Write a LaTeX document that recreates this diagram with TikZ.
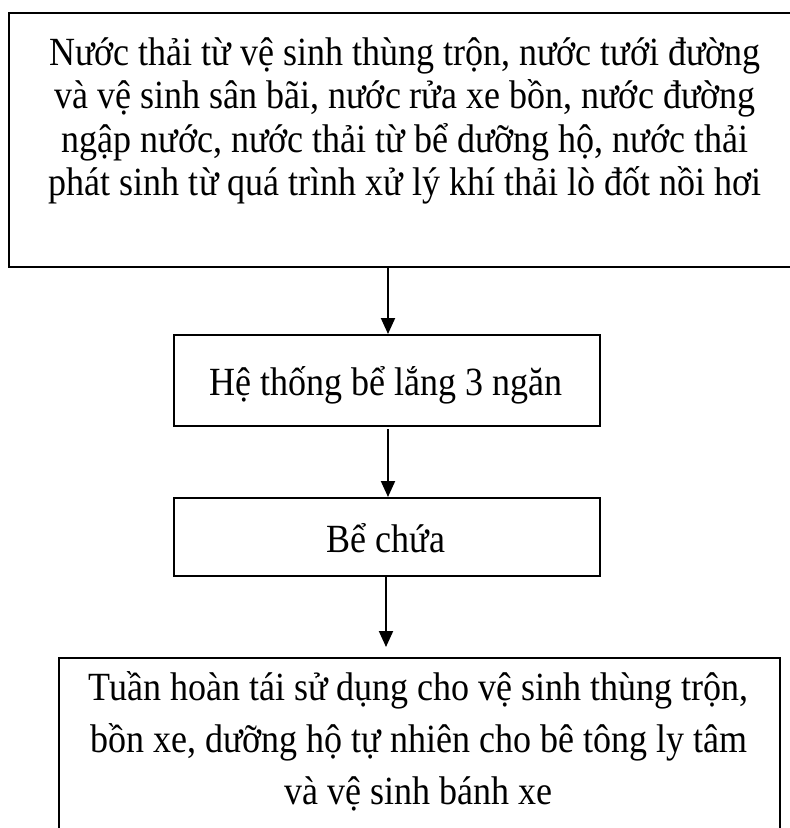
\documentclass[tikz,border=0pt]{standalone}
\usepackage{fontspec}
\setmainfont{Liberation Serif}[FakeStretch=0.9]
\usetikzlibrary{arrows.meta}
\tikzset{
  box/.style={draw=black, line width=2pt, rectangle, inner sep=0pt, anchor=north west},
  txt/.style={anchor=base, inner sep=0pt, font=\fontsize{40}{44}\selectfont},
  flow/.style={line width=2pt, -{Triangle[width=14pt,length=16pt]}}
}
\begin{document}
\begin{tikzpicture}[x=1pt,y=-1pt]
\useasboundingbox (0,0) rectangle (790,828);
% boxes
\node[box, minimum width=800pt, minimum height=254pt] (top) at (8,12) {};
\node[box, minimum width=426pt, minimum height=91pt] (mid) at (173,334) {};
\node[box, minimum width=426pt, minimum height=78pt] (store) at (173,497) {};
\node[box, minimum width=721pt, minimum height=200pt] (final) at (58,657) {};
% texts
\node[txt] (t1) at (405,65) {Nước thải từ vệ sinh thùng trộn, nước tưới đường};
\node[txt] (t2) at (405,108.5) {và vệ sinh sân bãi, nước rửa xe bồn, nước đường};
\node[txt] (t3) at (405,152) {ngập nước, nước thải từ bể dưỡng hộ, nước thải};
\node[txt] (t4) at (405,195.5) {phát sinh từ quá trình xử lý khí thải lò đốt nồi hơi};
\node[txt] (m1) at (386,395) {Hệ thống bể lắng 3 ngăn};
\node[txt] (s1) at (386,552) {Bể chứa};
\node[txt] (f1) at (418.5,700) {Tuần hoàn tái sử dụng cho vệ sinh thùng trộn,};
\node[txt] (f2) at (418.5,752) {bồn xe, dưỡng hộ tự nhiên cho bê tông ly tâm};
\node[txt] (f3) at (418.5,804) {và vệ sinh bánh xe};
% connectors
\draw[flow] ([xshift=1pt]mid.north |- top.south) -- ([xshift=1pt]mid.north);
\draw[flow] ([xshift=1pt,yshift=-2pt]mid.south) -- ([xshift=1pt]store.north);
\draw[flow, shorten >=10pt] ([xshift=-1pt]store.south) -- ([xshift=-1pt]store.south |- final.north);
\end{tikzpicture}
\end{document}
